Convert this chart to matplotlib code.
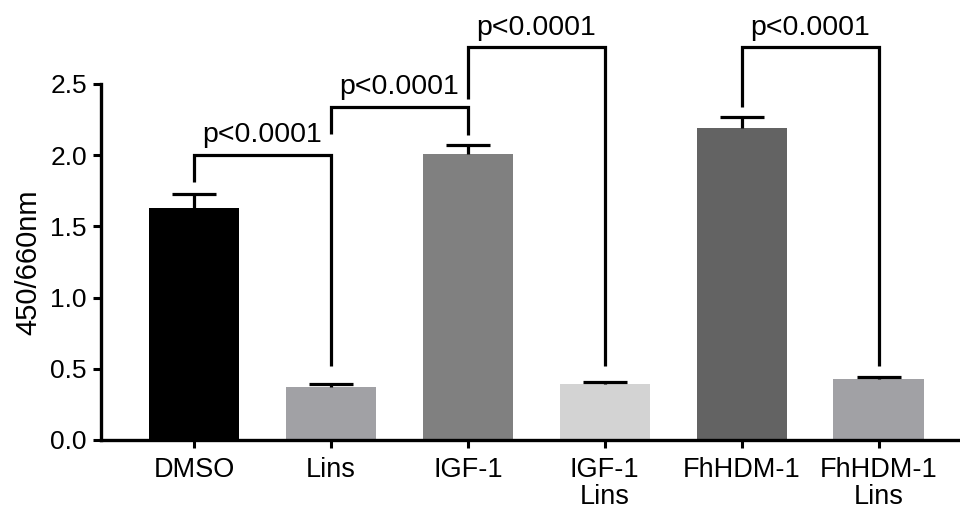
import matplotlib
matplotlib.use("Agg")
import matplotlib.pyplot as plt

categories = ["DMSO", "Lins", "IGF-1", "IGF-1\nLins", "FhHDM-1", "FhHDM-1\nLins"]
means = [1.63, 0.375, 2.01, 0.39, 2.19, 0.427]
errors = [0.10, 0.015, 0.06, 0.017, 0.08, 0.013]
colors = ["#000000", "#a1a1a5", "#808080", "#d3d3d3", "#636363", "#a1a1a5"]

# significance brackets: (left index, right index, top, left leg bottom, right leg bottom, label)
brackets = [
    (0, 1, 2.00, 1.81, 0.52, "p<0.0001"),
    (1, 2, 2.34, 2.15, 2.14, "p<0.0001"),
    (2, 3, 2.755, 2.39, 0.52, "p<0.0001"),
    (4, 5, 2.755, 2.34, 0.52, "p<0.0001"),
]
yticks = [0.0, 0.5, 1.0, 1.5, 2.0, 2.5]

plt.rcParams["font.family"] = ["Liberation Sans", "DejaVu Sans"]

fig = plt.figure(figsize=(9.6, 5.11), dpi=100)
ax = fig.add_axes([0.105, 0.139, 0.893, 0.697])

x = list(range(len(categories)))
lw = 2.3
bw = 0.66
capw = 0.16
ax.bar(x, means, width=bw, color=colors, edgecolor="none", zorder=2)
tops = [m + e for m, e in zip(means, errors)]
ax.vlines(x, means, tops, color="black", lw=lw, zorder=3)
ax.hlines(tops, [v - capw for v in x], [v + capw for v in x], color="black", lw=lw, zorder=3)

for i, j, top, lb, rb, lab in brackets:
    ax.plot([i, i, j, j], [lb, top, top, rb], color="black", lw=lw,
            clip_on=False, solid_joinstyle="miter", solid_capstyle="butt", zorder=4)
    ax.text((i + j) / 2, top + 0.09, lab, ha="center", va="baseline",
            fontsize=20.5, clip_on=False)

ax.set_xlim(-0.68, 5.58)
ax.set_ylim(0, 2.5)
ax.set_yticks(yticks)
ax.set_yticklabels([f"{v:.1f}" for v in yticks])
ax.set_xticks(x)
ax.set_xticklabels(categories, linespacing=1.05)
ax.set_ylabel("450/660nm", fontsize=21, labelpad=6)

for s in ["top", "right"]:
    ax.spines[s].set_visible(False)
for s in ["left", "bottom"]:
    ax.spines[s].set_linewidth(2.4)
ax.tick_params(axis="both", width=2.2, length=6, color="black")
ax.tick_params(axis="y", pad=4, labelsize=19)
ax.tick_params(axis="x", pad=6, labelsize=19.5)

fig.savefig("out.png", dpi=100)
